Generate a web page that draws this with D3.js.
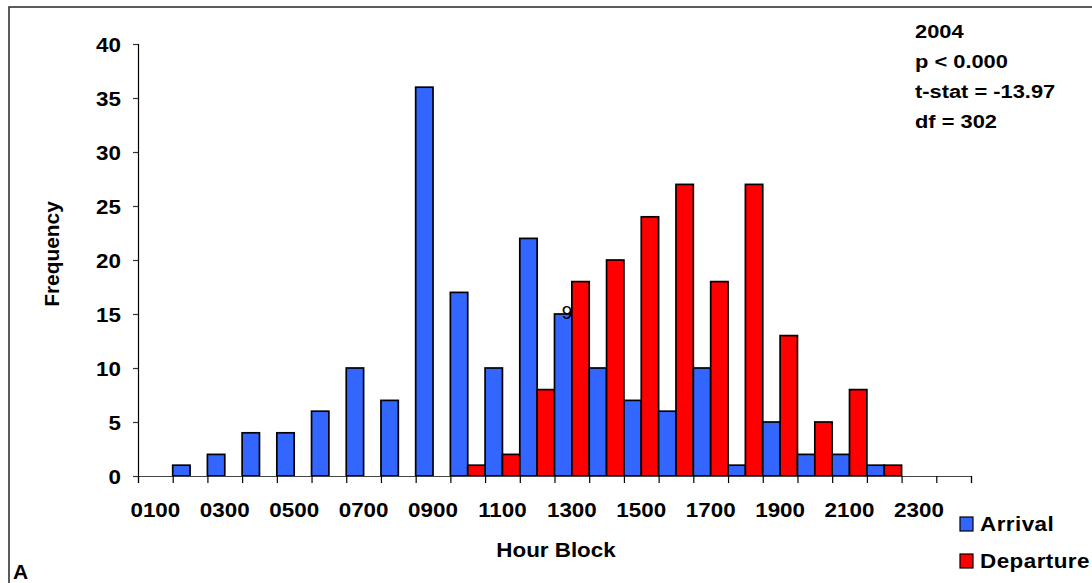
<!DOCTYPE html>
<html>
<head>
<meta charset="utf-8">
<script src="https://cdn.jsdelivr.net/npm/d3@7"></script>
<style>
  html, body { margin: 0; padding: 0; background: #fff; }
  svg { display: block; }
  text { font-family: "Liberation Sans", Arial, sans-serif; font-weight: bold; fill: #000; }
</style>
</head>
<body>
<svg id="chart" width="1092" height="583"></svg>
<script>
// ---- data ----
const hourBlocks = ["0100","0200","0300","0400","0500","0600","0700","0800","0900","1000","1100","1200",
                    "1300","1400","1500","1600","1700","1800","1900","2000","2100","2200","2300","2400"];
const arrival   = [0,1,2,4,4,6,10,7,36,17,10,22,15,10,7,6,10,1,5,2,2,1,0,0];
const departure = [0,0,0,0,0,0,0,0,0,1,2,8,18,20,24,27,18,27,13,5,8,1,0,0];
const xTickLabels = ["0100","0300","0500","0700","0900","1100","1300","1500","1700","1900","2100","2300"];
const yTicks = [0,5,10,15,20,25,30,35,40];
const seriesNames = ["Arrival","Departure"];
const seriesColors = ["#3366FF","#FF0000"];
const statsLines = ["2004","p < 0.000","t-stat = -13.97","df = 302"];

(function(){
const svg = d3.select("#chart");
const SX = 1.12; // horizontal text stretch seen in the reference

// outer frame
svg.append("rect").attr("x",9).attr("y",7).attr("width",1100).attr("height",600)
  .attr("fill","none").attr("stroke","#333").attr("stroke-width",1.6);

const pLeft = 138, pRight = 971, pTop = 44, pBottom = 476;

const x = d3.scaleBand().domain(hourBlocks).range([pLeft, pRight]).paddingInner(0).paddingOuter(0);
const xSub = d3.scaleBand().domain(seriesNames).range([0, x.bandwidth()]).padding(0);
const y = d3.scaleLinear().domain([0, 40]).range([pBottom, pTop]);

// bars
const rows = hourBlocks.map((h, i) => ({h, vals: [arrival[i], departure[i]]}));
const g = svg.append("g");
rows.forEach(r => {
  r.vals.forEach((v, j) => {
    if (v <= 0) return;
    g.append("rect")
      .attr("x", x(r.h) + xSub(seriesNames[j]))
      .attr("y", y(v))
      .attr("width", xSub.bandwidth())
      .attr("height", y(0) - y(v))
      .attr("fill", seriesColors[j])
      .attr("stroke", "#000")
      .attr("stroke-width", 1.7);
  });
});

// y axis
const yAxis = svg.append("g").attr("transform", `translate(${pLeft},0)`)
  .call(d3.axisLeft(y).tickValues(yTicks).tickSize(5).tickPadding(10).tickFormat(d3.format("d")));
yAxis.select(".domain").attr("stroke","#000").attr("stroke-width",1.2);
yAxis.selectAll(".tick line").attr("stroke","#333").attr("stroke-width",1.2);
yAxis.selectAll(".tick text")
  .style("font-size","20px").style("font-family","'Liberation Sans', Arial, sans-serif")
  .style("font-weight","bold").attr("fill","#000").attr("dy","0.36em")
  .attr("x", 0)
  .attr("transform", `translate(-17,0) scale(${SX},1)`);

// x axis: ticks at category boundaries
const xb = d3.scaleLinear().domain([0, hourBlocks.length]).range([pLeft, pRight]);
const xAxisTicks = svg.append("g").attr("transform", `translate(0,${pBottom})`)
  .call(d3.axisBottom(xb).tickValues(d3.range(0, hourBlocks.length + 1)).tickSize(7).tickFormat(""));
xAxisTicks.select(".domain").attr("stroke","#444").attr("stroke-width",1.2);
xAxisTicks.selectAll(".tick line").attr("stroke","#000").attr("stroke-width",1.2);

// x labels (every other category)
svg.append("g").selectAll("text").data(xTickLabels).join("text")
  .attr("transform", d => `translate(${x(d) + x.bandwidth()/2},517) scale(${SX},1)`)
  .attr("text-anchor","middle").style("font-size","20px").text(d => d);

// axis titles
svg.append("text").attr("transform", `translate(556,557) scale(${SX},1)`)
  .attr("text-anchor","middle").style("font-size","20px").text("Hour Block");
svg.append("text").attr("transform", "translate(59,254) rotate(-90) scale(1.1,1.05)")
  .attr("text-anchor","middle").style("font-size","19px").text("Frequency");

// stray data label
svg.append("text").attr("transform", `translate(567,319)`)
  .attr("text-anchor","middle").style("font-size","19px").style("font-weight","normal").text("9");

// stats annotation
svg.append("g").selectAll("text").data(statsLines).join("text")
  .attr("transform", (d,i) => `translate(915,${38 + i*30}) scale(1.15,1)`)
  .style("font-size","19px").text(d => d);

// legend
const leg = svg.append("g");
seriesNames.forEach((s, i) => {
  const yy = 517 + i * 37;
  leg.append("rect").attr("x",960).attr("y",yy).attr("width",13).attr("height",14)
    .attr("fill",seriesColors[i]).attr("stroke","#000").attr("stroke-width",1.2);
  leg.append("text").attr("transform", `translate(980,${yy+14}) scale(1.07,1)`)
    .style("font-size","21px").style("letter-spacing","0.4px").text(s);
});

// panel letter
svg.append("text").attr("x",13).attr("y",579).style("font-size","21px").text("A");
})();
</script>
</body>
</html>
